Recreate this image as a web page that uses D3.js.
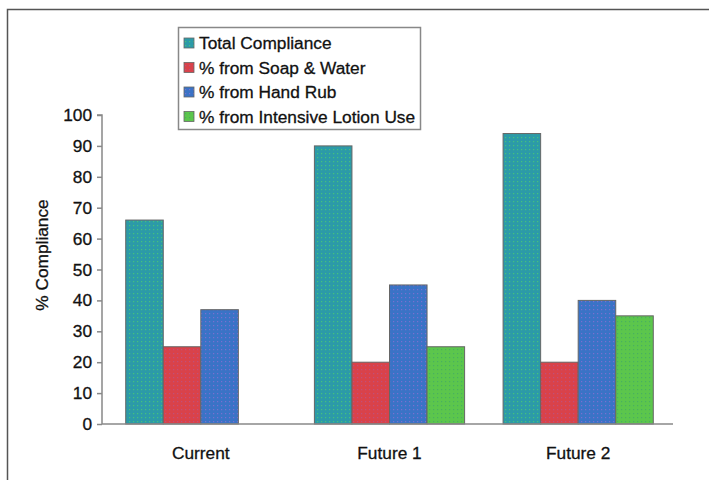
<!DOCTYPE html>
<html><head><meta charset="utf-8">
<script src="https://cdn.jsdelivr.net/npm/d3@7"></script>
<style>body{margin:0;background:#fff;} svg{display:block;font-family:"Liberation Sans",Arial,sans-serif;} text{stroke:#111;stroke-width:0.3px;}</style>
</head><body>
<svg id="c" width="709" height="480"></svg>
<script>
const categories = ["Current", "Future 1", "Future 2"];
const seriesNames = ["Total Compliance", "% from Soap & Water", "% from Hand Rub", "% from Intensive Lotion Use"];
const totalCompliance = [66, 90, 94];
const soapWater = [25, 20, 20];
const handRub = [37, 45, 40];
const lotionUse = [null, 25, 35];
const yTicks = [0, 10, 20, 30, 40, 50, 60, 70, 80, 90, 100];
const seriesValues = [totalCompliance, soapWater, handRub, lotionUse];

(function () {
const FS = 17.3;
const svg = d3.select("#c");
const defs = svg.append("defs");
const fills = [
  {base: "#2c9aa8", dot: "#45c27c"},
  {base: "#d9424a", dot: "#c0507a"},
  {base: "#3a73c6", dot: "#7a6fd0"},
  {base: "#5cc64c", dot: "#48b060"}
];
fills.forEach((f, i) => {
  const p = defs.append("pattern").attr("id", "p" + i).attr("patternUnits", "userSpaceOnUse")
    .attr("width", 4).attr("height", 4);
  p.append("rect").attr("width", 4).attr("height", 4).attr("fill", f.base);
  p.append("rect").attr("x", 1).attr("y", 1).attr("width", 1.2).attr("height", 1.2).attr("fill", f.dot);
});

// outer frame
svg.append("rect").attr("x", 7.5).attr("y", 9.5).attr("width", 760).attr("height", 520)
  .attr("fill", "none").attr("stroke", "#555").attr("stroke-width", 1.5);

const pl = 102, pr = 673, pt = 115, pb = 424;
const y = d3.scaleLinear().domain([0, 100]).range([pb, pt]);
const x0 = d3.scaleBand().domain(categories).range([pl, 677]).paddingInner(0.204).paddingOuter(0.1257);
const x1 = d3.scaleBand().domain(d3.range(4)).range([0, x0.bandwidth()]);

// y axis
const yAxis = d3.axisLeft(y).tickValues(yTicks).tickSize(5).tickPadding(5);
const yg = svg.append("g").attr("transform", `translate(${pl},0)`).call(yAxis);
yg.select(".domain").attr("stroke", "#888").attr("stroke-width", 1.5).attr("d", `M-5,${pt}H0V${pb}`);
yg.selectAll(".tick line").attr("stroke", "#888").attr("stroke-width", 1.5);
yg.selectAll(".tick text").attr("font-size", FS).attr("fill", "#111").attr("font-family", "Liberation Sans, Arial, sans-serif");

// bars
categories.forEach((c, ci) => {
  seriesValues.forEach((vals, si) => {
    const v = vals[ci];
    if (v == null) return;
    svg.append("rect")
      .attr("x", x0(c) + x1(si))
      .attr("y", y(v))
      .attr("width", x1.bandwidth())
      .attr("height", y(0) - y(v))
      .attr("fill", `url(#p${si})`)
      .attr("stroke", "#666").attr("stroke-width", 1);
  });
});

// x axis line
svg.append("line").attr("x1", pl).attr("x2", pr).attr("y1", pb).attr("y2", pb)
  .attr("stroke", "#888").attr("stroke-width", 1.5);

// category labels
svg.selectAll(".cat").data(categories).enter().append("text")
  .attr("x", d => x0(d) + x0.bandwidth() / 2)
  .attr("y", 459)
  .attr("text-anchor", "middle").attr("font-size", FS).attr("fill", "#111")
  .text(d => d);

// y label
svg.append("text").attr("transform", "translate(48,255) rotate(-90)")
  .attr("text-anchor", "middle").attr("font-size", FS).attr("fill", "#111").text("% Compliance");

// legend
const lg = svg.append("g");
lg.append("rect").attr("x", 178.5).attr("y", 27.5).attr("width", 242).attr("height", 102)
  .attr("fill", "#fff").attr("stroke", "#888").attr("stroke-width", 1.5);
seriesNames.forEach((n, i) => {
  const cy = 43 + i * 24.5;
  lg.append("rect").attr("x", 184).attr("y", cy - 5).attr("width", 10).attr("height", 10)
    .attr("fill", `url(#p${i})`).attr("stroke", "#666").attr("stroke-width", 0.8);
  lg.append("text").attr("x", 199).attr("y", cy + 6).attr("font-size", FS).attr("fill", "#111").text(n);
});
})();
</script>
</body></html>
